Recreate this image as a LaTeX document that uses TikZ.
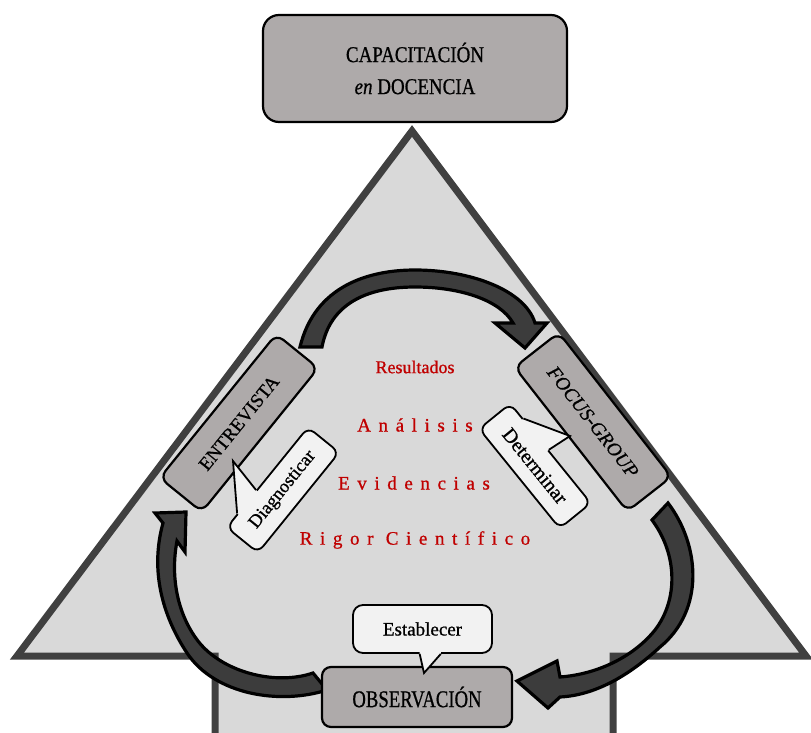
\documentclass[tikz,border=0pt]{standalone}
\usepackage{fontspec}
\setmainfont{Liberation Serif}[FakeBold=0.8]
\newfontfamily\trackedfont[LetterSpace=40, FakeBold=0.8]{Liberation Serif}
\usetikzlibrary{calc}

\definecolor{bgfill}{RGB}{217,217,217}
\definecolor{shapeline}{RGB}{64,64,64}
\definecolor{boxfill}{RGB}{174,170,170}
\definecolor{calloutfill}{RGB}{242,242,242}
\definecolor{arrowfill}{RGB}{60,60,60}
\definecolor{redtext}{RGB}{192,0,0}

\tikzset{
  labelbox/.style={draw=black, line width=2.2pt, fill=boxfill, rounded corners=9pt, inner sep=0pt},
  notebox/.style={draw=black, line width=1.8pt, fill=calloutfill, rounded corners=8pt, inner sep=0pt},
  bendarrow/.style={fill=arrowfill, draw=black, line width=3.2pt, line join=miter},
  pointerline/.style={draw=black, line width=1.8pt, line join=miter},
  redword/.style={text=redtext, font=\trackedfont\fontsize{19}{22}\selectfont},
}

\begin{document}
\begin{tikzpicture}[x=1pt,y=-1pt]
\useasboundingbox (0,0) rectangle (811,733);

% up-arrow backdrop: triangular head and shaft
\draw[fill=bgfill, draw=shapeline, line width=7pt, line join=miter]
  (412,131) -- (806,656) -- (613,656) -- (613,745) -- (215,745) -- (215,656) -- (17,656) -- cycle;

% curved block arrows of the cycle
% ENTREVISTA -> FOCUS-GROUP
\path[bendarrow] (300,347) .. controls (315,285) and (370,270) .. (415,270)
  .. controls (470,270) and (525,290) .. (535,323)
  -- (547,323) -- (525,348) -- (495,323) -- (513,323)
  .. controls (500,300) and (460,287) .. (415,287)
  .. controls (365,287) and (330,305) .. (322,347) -- cycle;
% FOCUS-GROUP -> OBSERVACION
\path[bendarrow] (652,520) -- (668,503)
  .. controls (700,545) and (705,610) .. (660,647)
  .. controls (635,670) and (600,695) .. (560,697)
  -- (548,708) -- (517,681) -- (557,661) -- (560,677)
  .. controls (600,674) and (635,655) .. (655,630)
  .. controls (678,600) and (678,555) .. (652,520) -- cycle;
% OBSERVACION -> ENTREVISTA
\path[bendarrow] (313,673) -- (327,690)
  .. controls (280,705) and (215,695) .. (187,653)
  .. controls (162,615) and (150,570) .. (163,523)
  -- (155,513) -- (186,512) -- (185,552) -- (177,541)
  .. controls (170,578) and (178,615) .. (198,641)
  .. controls (222,672) and (275,686) .. (313,673) -- cycle;

% main boxes
\node[labelbox, rounded corners=16pt, minimum width=304pt, minimum height=107pt,
      align=center, font=\fontsize{22.6}{32}\selectfont] (cap) at (415,68.5)
  {\scalebox{0.84}[1]{CAPACITACIÓN}\\\scalebox{0.84}[1]{\textit{en} DOCENCIA}};
\node[labelbox, rotate=51, minimum width=185pt, minimum height=54pt,
      font=\fontsize{19}{20}\selectfont] (ent) at (239,423) {ENTREVISTA};
\node[labelbox, rotate=-52, minimum width=183pt, minimum height=56pt,
      font=\itshape\fontsize{19.5}{20}\selectfont] (fg) at (593,422) {FOCUS-GROUP};
\node[labelbox, minimum width=190pt, minimum height=60pt,
      font=\fontsize{24}{26}\selectfont] (obs) at (417,697) {\scalebox{0.78}[1]{OBSERVACIÓN}};

% callouts
\node[notebox, rotate=51, minimum width=129pt, minimum height=40pt,
      font=\fontsize{18.5}{19}\selectfont] (dg) at (283,490) {Diagnosticar};
\coordinate (dgA) at ($(dg.north west)!0.14!(dg.north east)$);
\coordinate (dgB) at ($(dg.north west)!0.37!(dg.north east)$);
\coordinate (dgAi) at ($(dgA)!3pt!($(dg.south west)!0.14!(dg.south east)$)$);
\coordinate (dgBi) at ($(dgB)!3pt!($(dg.south west)!0.37!(dg.south east)$)$);
\coordinate (dgtip) at (233,461);
\fill[calloutfill] (dgAi) -- (dgA) -- (dgtip) -- (dgB) -- (dgBi) -- cycle;
\draw[pointerline] (dgA) -- (dgtip) -- (dgB);

\node[notebox, rotate=-51, minimum width=128pt, minimum height=40pt,
      font=\fontsize{20}{21}\selectfont] (dt) at (535,466) {Determinar};
\coordinate (dtA) at ($(dt.north west)!0.16!(dt.north east)$);
\coordinate (dtB) at ($(dt.north west)!0.47!(dt.north east)$);
\coordinate (dtAi) at ($(dtA)!3pt!($(dt.south west)!0.16!(dt.south east)$)$);
\coordinate (dtBi) at ($(dtB)!3pt!($(dt.south west)!0.47!(dt.south east)$)$);
\coordinate (dttip) at (570,436);
\fill[calloutfill] (dtAi) -- (dtA) -- (dttip) -- (dtB) -- (dtBi) -- cycle;
\draw[pointerline] (dtA) -- (dttip) -- (dtB);

\node[notebox, rounded corners=10pt, minimum width=139pt, minimum height=48pt,
      font=\fontsize{19}{20}\selectfont] (est) at (422.5,629) {\raisebox{-3pt}{Establecer}};
\coordinate (estA) at ($(est.south west)!0.48!(est.south east)$);
\coordinate (estB) at ($(est.south west)!0.63!(est.south east)$);
\coordinate (estAi) at ($(estA)+(0,-3)$);
\coordinate (estBi) at ($(estB)+(0,-3)$);
\coordinate (esttip) at (424,673);
\fill[calloutfill] (estAi) -- (estA) -- (esttip) -- (estB) -- (estBi) -- cycle;
\draw[pointerline] (estA) -- (esttip) -- (estB);

% central red words
\node[text=redtext, font=\fontsize{18}{19}\selectfont] (res) at (415,367) {Resultados};
\node[redword] (ana) at (415,425) {Análisis};
\node[redword] (evi) at (414,483) {Evidencias};
\node[redword] (rig) at (415,540) {Rigor Científico};
\end{tikzpicture}
\end{document}
